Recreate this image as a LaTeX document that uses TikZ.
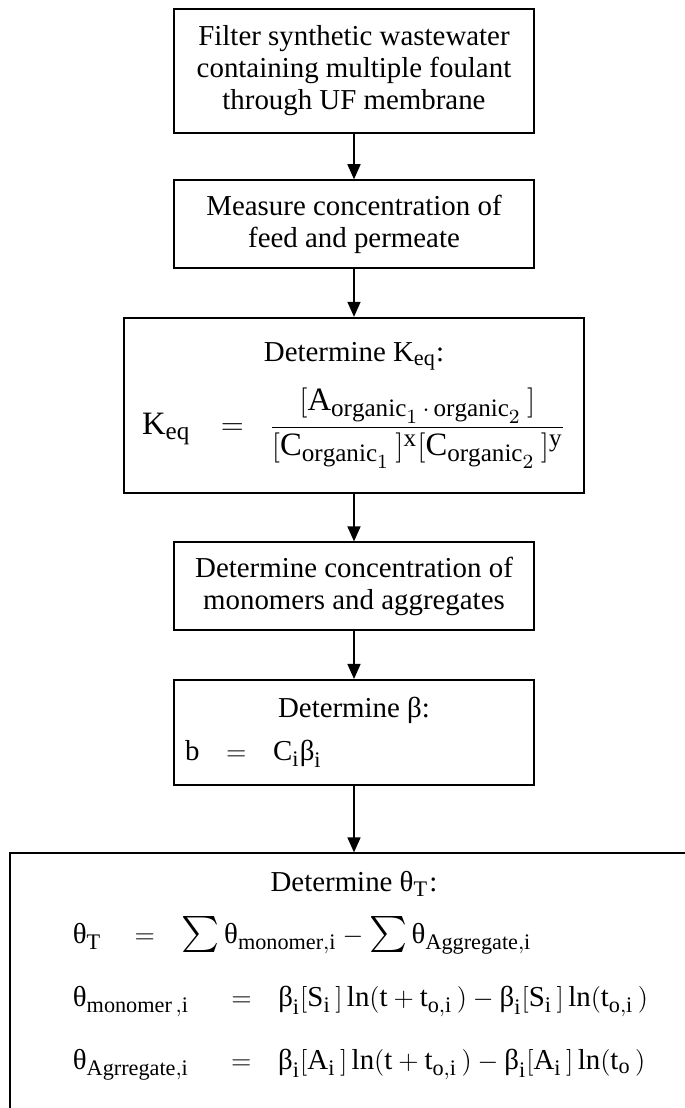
\documentclass[tikz,border=0pt]{standalone}
\usepackage{amsmath}
\usepackage{fontspec}
\setmainfont{Liberation Serif}
\usepackage{tikz}
\usetikzlibrary{arrows.meta, positioning}

\DeclareMathSizes{13}{13}{10}{8}
\newcommand{\betaup}{\text{β}}
\newcommand{\thetaup}{\text{θ}}
\newcommand{\bigsum}{\mathop{\scalebox{1.35}{$\textstyle\sum$}}\nolimits}

\begin{document}
\begin{tikzpicture}[
        node distance=21.5pt,
        font=\fontsize{13}{14.4}\selectfont,
        box/.style={rectangle, draw, line width=0.8pt, minimum width=162pt, align=center, inner sep=4pt},
        arrow/.style={-{Triangle[length=6.8pt, width=5.8pt]}, line width=0.9pt}
    ]
        \useasboundingbox (0,0) rectangle (308.25pt,-498.6pt);

        % Nodes
        \node[box, minimum height=55.8pt, anchor=north] (filter) at (159.3pt,-3.6pt)
            {Filter synthetic wastewater\\containing multiple foulant\\through UF membrane};
        \node[box, minimum height=39.6pt, below=20.5pt of filter] (measure)
            {Measure concentration of\\feed and permeate};
        \node[box, minimum height=78.75pt, minimum width=207pt, below=of measure] (keq)
            {Determine K\textsubscript{eq}:\\[7pt]
             \scalebox{1.13}{$\mathrm{K_{eq}}\hspace{12pt}{=}\hspace{10pt}
             \dfrac{[\mathrm{A}_{\mathrm{organic}_1\,\cdot\,\mathrm{organic}_2}\,]}
                   {[\mathrm{C}_{\mathrm{organic}_1}\,]^{\mathrm{x}}[\mathrm{C}_{\mathrm{organic}_2}\,]^{\mathrm{y}}}$}};
        \node[box, minimum height=39.6pt, below=of keq] (conc)
            {Determine concentration of\\monomers and aggregates};
        \node[box, minimum height=47.25pt, below=of conc] (beta)
            {Determine β:\\[5pt]
             \makebox[154pt][l]{\hspace*{1pt}$\mathrm{b}\hspace{12pt}{=}\hspace{12pt}\mathrm{C}_{\mathrm{i}}\betaup_{\mathrm{i}}$}};
        \node[box, minimum width=309.6pt, inner ysep=8pt, below=30pt of beta] (theta)
            {Determine θ\textsubscript{T}\kern0.5pt:\\[8pt]
             \makebox[301pt][l]{\hspace*{24pt}$\thetaup_{\mathrm{T}}\hspace{15pt}{=}\hspace{10pt}
               \bigsum\thetaup_{\mathrm{monomer,i}}-\bigsum\thetaup_{\mathrm{Aggregate,i}}$}\\[14pt]
             \makebox[301pt][l]{\hspace*{24pt}$\thetaup_{\mathrm{monomer\,,i}}\hspace{19pt}{=}\hspace{12pt}
               \betaup_{\mathrm{i}}[\mathrm{S}_{\mathrm{i}}\,]\ln(\mathrm{t}+\mathrm{t}_{\mathrm{o,i}}\,)-\betaup_{\mathrm{i}}[\mathrm{S}_{\mathrm{i}}\,]\ln(\mathrm{t}_{\mathrm{o,i}}\,)$}\\[14pt]
             \makebox[301pt][l]{\hspace*{24pt}$\thetaup_{\mathrm{Agrregate,i}}\hspace{19pt}{=}\hspace{12pt}
               \betaup_{\mathrm{i}}[\mathrm{A}_{\mathrm{i}}\,]\ln(\mathrm{t}+\mathrm{t}_{\mathrm{o,i}}\,)-\betaup_{\mathrm{i}}[\mathrm{A}_{\mathrm{i}}\,]\ln(\mathrm{t}_{\mathrm{o}}\,)$\rule[-40pt]{0pt}{0pt}}};

        % Arrows
        \draw[arrow] (filter) -- (measure);
        \draw[arrow] (measure) -- (keq);
        \draw[arrow] (keq) -- (conc);
        \draw[arrow] (conc) -- (beta);
        \draw[arrow] (beta) -- (theta);
    \end{tikzpicture}
\end{document}
